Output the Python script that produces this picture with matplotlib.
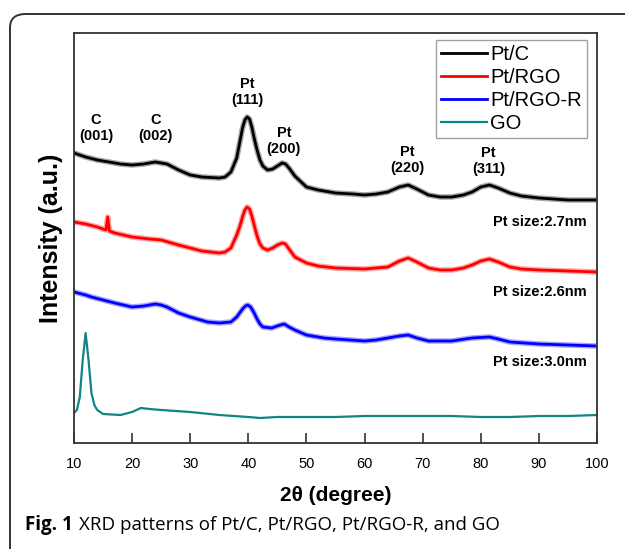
import matplotlib
matplotlib.use("Agg")
import matplotlib.pyplot as plt
from matplotlib.patches import FancyBboxPatch

# ---- data (2theta in degrees, intensity in arbitrary units) ----
ptc_x = [10, 12, 14, 16, 18, 20, 22, 24, 25, 26, 28, 30, 32, 35, 36, 37, 38, 38.5, 39, 39.4, 39.8, 40.2, 40.6,
         41, 41.5, 42, 42.5, 43.3, 44.2, 45, 45.8, 46.4, 47, 48, 50, 52, 55, 58, 60, 62, 64, 66, 67.5, 69, 71,
         73, 75, 77, 78.5, 80, 81.5, 83, 85, 87, 90, 95, 100]
ptc_y = [290, 286, 283, 281, 279, 278, 279, 281, 280, 279, 273, 268, 266, 265, 266, 271, 285, 300, 315, 323,
         326, 324, 316, 305, 293, 283, 277, 273, 274, 277, 280, 279, 275, 267, 256, 253, 250, 249, 248, 249,
         251, 256, 258, 254, 248, 246, 246, 248, 251, 256, 258, 255, 250, 247, 245, 243, 243]

rgo_x = [10, 12, 14, 15.5, 15.8, 16.1, 17, 20, 23, 25, 28, 30, 32, 35, 36, 37, 38, 38.5, 39, 39.4, 39.8, 40.2,
         40.6, 41, 41.5, 42, 42.5, 43.3, 44.2, 45, 45.8, 46.4, 47, 48, 50, 52, 55, 60, 62, 64, 66, 67.5, 69,
         71, 73, 75, 77, 78.5, 80, 81.5, 83, 85, 87, 90, 95, 100]
rgo_y = [221, 219, 216, 213, 226, 212, 210, 206, 204, 203, 198, 195, 192, 190, 191, 195, 208, 216, 226, 233,
         236, 234, 227, 218, 207, 199, 195, 193, 195, 198, 200, 199, 194, 186, 180, 177, 175, 174, 175, 176,
         182, 185, 181, 175, 173, 173, 175, 178, 182, 184, 181, 176, 174, 173, 172, 171]

rgor_x = [10, 12, 13, 15, 17, 20, 22, 24, 25, 26, 28, 30, 33, 35, 37, 38, 38.5, 39, 39.5, 39.9, 40.4, 41, 41.5,
          42, 42.5, 44, 45.5, 46.2, 47, 48, 50, 53, 55, 60, 62, 64, 66, 67.5, 69, 71, 75, 78.5, 81.5, 83, 85,
          90, 95, 100]
rgor_y = [151, 148, 146, 143, 140, 136, 137, 139, 138, 136, 130, 126, 121, 120, 121, 126, 130, 134, 137, 138,
          136, 130, 124, 119, 116, 115, 118, 119, 116, 113, 108, 105, 104, 102, 103, 105, 107, 108, 105, 102,
          102, 105, 106, 104, 101, 99, 98, 97]

go_x = [10, 10.5, 11, 11.5, 12, 12.5, 13, 13.5, 14, 15, 18, 20, 21.5, 23, 25, 30, 35, 40, 42, 45, 50, 55, 60,
        65, 70, 75, 80, 85, 90, 95, 100]
go_y = [30, 33, 46, 83, 110, 83, 50, 38, 33, 29, 28, 31, 35, 34, 33, 31, 28, 26, 25, 26, 26, 26, 27, 27, 27,
        27, 26, 26, 27, 27, 28]

series_names = ["Pt/C", "Pt/RGO", "Pt/RGO-R", "GO"]
series_colors = ["#000000", "#ff0000", "#0000ff", "#108585"]

peak_labels = ["C\n(001)", "C\n(002)", "Pt\n(111)", "Pt\n(200)", "Pt\n(220)", "Pt\n(311)"]
peak_label_x = [13.8, 24.1, 39.8, 46.1, 67.3, 81.3]
peak_label_y = [315, 315, 351, 302, 283, 282]

size_labels = ["Pt size:2.7nm", "Pt size:2.6nm", "Pt size:3.0nm"]
size_label_y = [221, 151, 81]

x_ticks = [10, 20, 30, 40, 50, 60, 70, 80, 90, 100]

# ---- figure ----
W, H = 625, 549
fig = plt.figure(figsize=(W / 100, H / 100), dpi=100)
fig.patch.set_facecolor("white")

# rounded outer frame (clipped at right & bottom)
frame = FancyBboxPatch((10 / W, -20 / H), 660 / W, (549 - 14 + 20) / H,
                       boxstyle="round,pad=0,rounding_size=0.025",
                       transform=fig.transFigure, facecolor="none",
                       edgecolor="#333333", linewidth=1.4)
fig.add_artist(frame)

ax = fig.add_axes([74 / W, 1 - 443 / H, (597 - 74) / W, (443 - 33) / H])

xs = [ptc_x, rgo_x, rgor_x, go_x]
ys = [ptc_y, rgo_y, rgor_y, go_y]
fuzzy = [True, True, True, False]
for x, y, n, c, fz in zip(xs, ys, series_names, series_colors, fuzzy):
    if fz:
        ax.plot(x, y, color=c, lw=4.0, alpha=0.35, solid_joinstyle="round")
        ax.plot(x, y, color=c, lw=2.0, label=n)
    else:
        ax.plot(x, y, color=c, lw=1.6, label=n)

ax.set_xlim(10, 100)
ax.set_ylim(0, 410)
ax.set_xticks(x_ticks)
ax.set_yticks([])
ax.tick_params(axis="x", direction="in", length=7, width=1.2, color="#333333",
               labelsize=10.5, pad=10, top=False)
for lab in ax.get_xticklabels():
    lab.set_family("Liberation Sans")
for s in ax.spines.values():
    s.set_linewidth(1.3)
    s.set_color("#333333")

for t, x, y in zip(peak_labels, peak_label_x, peak_label_y):
    ax.text(x, y, t, ha="center", va="center", fontsize=10.5, fontweight="bold",
            family="Liberation Sans", linespacing=1.1)

for t, y in zip(size_labels, size_label_y):
    ax.text(98.3, y, t, ha="right", va="center", fontsize=10.5, fontweight="bold",
            family="Liberation Sans")

ax.set_xlabel("2\u03b8 (degree)", fontsize=15, fontweight="bold", family="Liberation Sans", labelpad=11)
ax.set_ylabel("Intensity (a.u.)", fontsize=18, fontweight="bold", family="Liberation Sans", labelpad=8)

leg = ax.legend(loc="upper right", bbox_to_anchor=(587 / W, 1 - 40 / H), bbox_transform=fig.transFigure,
                prop={"family": "Liberation Sans", "size": 14.5}, frameon=True, fancybox=False,
                handlelength=2.3, handletextpad=0.15, labelspacing=0.2, borderpad=0.25,
                borderaxespad=0)
leg.get_frame().set_edgecolor("#888888")
leg.get_frame().set_linewidth(1.0)

fig.text(25 / W, 1 - 525 / H, "Fig. 1", fontsize=13.5, fontweight="bold", family="Open Sans",
         va="center", ha="left")
fig.text(79 / W, 1 - 525 / H, "XRD patterns of Pt/C, Pt/RGO, Pt/RGO-R, and GO", fontsize=13.5,
         family="Open Sans", va="center", ha="left")

fig.savefig("out.png", dpi=100)
